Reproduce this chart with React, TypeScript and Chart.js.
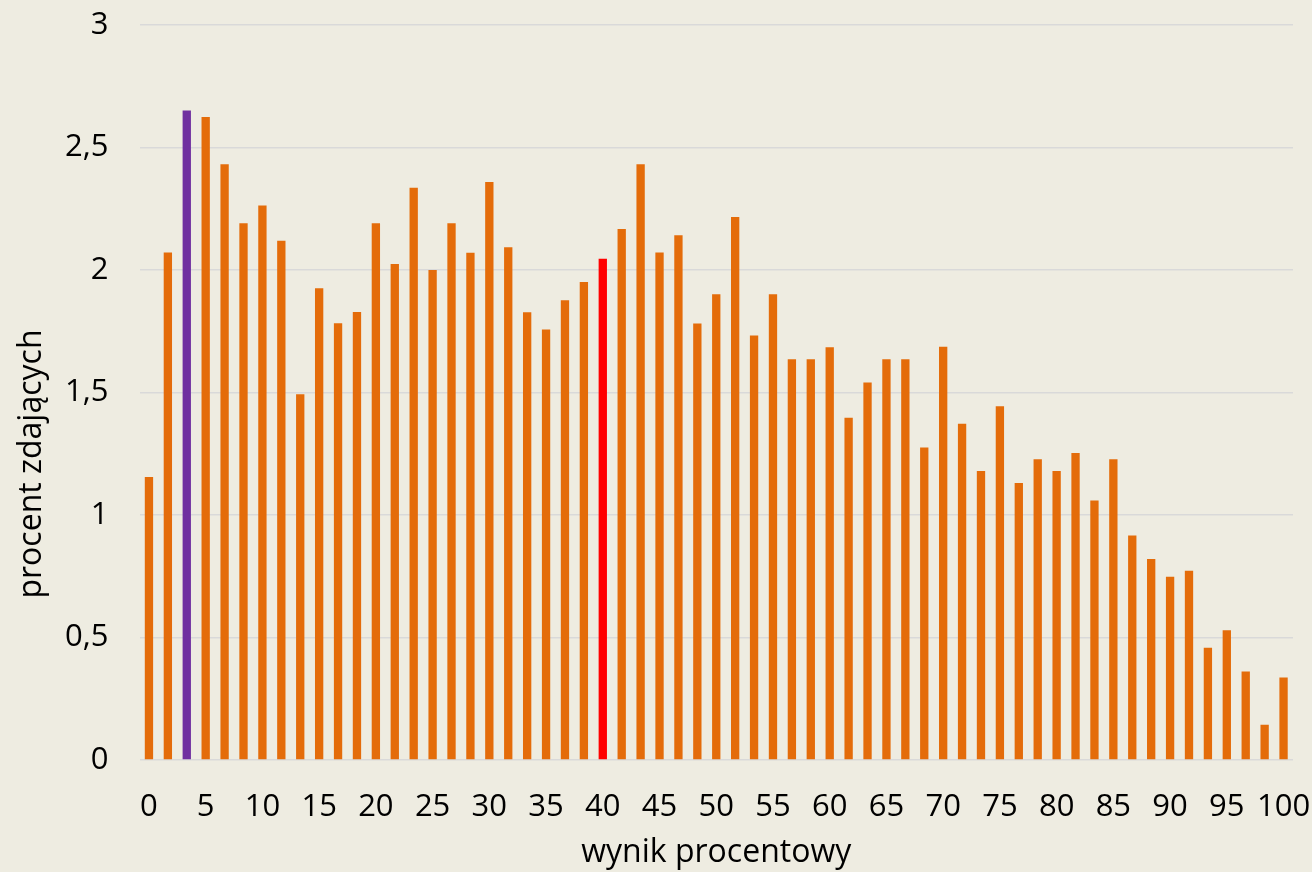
import React, { useEffect, useRef } from 'react';
import { Chart, registerables } from 'chart.js';

Chart.register(...registerables);

// score in percent for each bar (60-point test, one bar per point)
const CATEGORIES = [
  '0', '1,7', '3,3', '5', '6,7', '8,3', '10', '11,7', '13,3', '15',
  '16,7', '18,3', '20', '21,7', '23,3', '25', '26,7', '28,3', '30', '31,7',
  '33,3', '35', '36,7', '38,3', '40', '41,7', '43,3', '45', '46,7', '48,3',
  '50', '51,7', '53,3', '55', '56,7', '58,3', '60', '61,7', '63,3', '65',
  '66,7', '68,3', '70', '71,7', '73,3', '75', '76,7', '78,3', '80', '81,7',
  '83,3', '85', '86,7', '88,3', '90', '91,7', '93,3', '95', '96,7', '98,3',
  '100',
];

// percent of students
const VALUES = [
  1.155, 2.071, 2.651, 2.625, 2.432, 2.191, 2.263, 2.119, 1.493, 1.926,
  1.783, 1.829, 2.191, 2.024, 2.336, 2.0, 2.191, 2.07, 2.359, 2.093,
  1.828, 1.757, 1.877, 1.951, 2.046, 2.167, 2.432, 2.071, 2.142, 1.782,
  1.901, 2.216, 1.733, 1.901, 1.636, 1.636, 1.685, 1.397, 1.541, 1.636,
  1.636, 1.276, 1.687, 1.372, 1.18, 1.444, 1.131, 1.228, 1.18, 1.253,
  1.059, 1.228, 0.916, 0.82, 0.748, 0.772, 0.458, 0.53, 0.361, 0.144,
  0.337,
];

const TICK_LABELS = [
  '0', '5', '10', '15', '20', '25', '30', '35', '40', '45', '50',
  '55', '60', '65', '70', '75', '80', '85', '90', '95', '100',
];

const X_TITLE = 'wynik procentowy';
const Y_TITLE = 'procent zdających';

const PURPLE_INDEX = 2;
const RED_INDEX = 24;

const BG = '#EEECE1';
const ORANGE = '#E46C0A';
const PURPLE = '#7030A0';
const RED = '#FF0000';
const GRID = '#D9D9D9';
const FONT_FAMILY = '"Open Sans", Lato, sans-serif';
const FONT_SIZE = 31;
const TITLE_SIZE = 32;

export default function App() {
  const ref = useRef<HTMLCanvasElement>(null);

  useEffect(() => {
    document.body.style.margin = '0';
    document.body.style.background = BG;
    const colors = VALUES.map((_, i) =>
      i === PURPLE_INDEX ? PURPLE : i === RED_INDEX ? RED : ORANGE
    );

    const yTitlePlugin = {
      id: 'yTitleCustom',
      afterDraw(chart: any) {
        const ctx = chart.ctx;
        ctx.save();
        ctx.translate(32, 464);
        ctx.rotate(-Math.PI / 2);
        ctx.font = `${TITLE_SIZE}px ${FONT_FAMILY}`;
        ctx.textAlign = 'center';
        ctx.textBaseline = 'middle';
        ctx.fillStyle = '#000';
        ctx.fillText(Y_TITLE, 0, 0);
        ctx.restore();
      },
    };

    const chart = new Chart(ref.current as HTMLCanvasElement, {
      type: 'bar',
      data: {
        labels: CATEGORIES,
        datasets: [
          {
            data: VALUES,
            backgroundColor: colors,
            barPercentage: 0.44,
            categoryPercentage: 1,
          },
        ],
      },
      options: {
        responsive: false,
        animation: false,
        layout: { padding: { top: 25, right: 19, bottom: 0, left: 0 } },
        plugins: {
          legend: { display: false },
          tooltip: { enabled: false },
        },
        scales: {
          x: {
            grid: { display: false },
            border: { display: false },
            ticks: {
              autoSkip: false,
              maxRotation: 0,
              minRotation: 0,
              padding: 21,
              color: '#000',
              font: { family: FONT_FAMILY, size: FONT_SIZE },
              callback: (_v: any, i: number) => (i % 3 === 0 ? TICK_LABELS[i / 3] : ''),
            },
            title: {
              display: true,
              text: X_TITLE,
              color: '#000',
              font: { family: FONT_FAMILY, size: TITLE_SIZE },
              padding: { top: 0, bottom: 0 },
            },
            afterFit: (s: any) => {
              s.height = 112;
              s.paddingLeft = 0;
              s.paddingRight = 0;
            },
          },
          y: {
            min: 0,
            max: 3,
            ticks: {
              stepSize: 0.5,
              padding: 31,
              color: '#000',
              font: { family: FONT_FAMILY, size: FONT_SIZE },
              callback: (v: any) => String(v).replace('.', ','),
            },
            grid: { color: GRID, lineWidth: 1.5, drawTicks: false },
            border: { display: false },
            afterFit: (s: any) => {
              s.width = 139.5;
              s.paddingTop = 0;
              s.paddingBottom = 0;
            },
          },
        },
      },
      plugins: [yTitlePlugin],
    });
    return () => chart.destroy();
  }, []);

  return (
    <div style={{ width: 1312, height: 872, background: BG }}>
      <canvas ref={ref} width={1312} height={872} style={{ display: 'block' }} />
    </div>
  );
}
